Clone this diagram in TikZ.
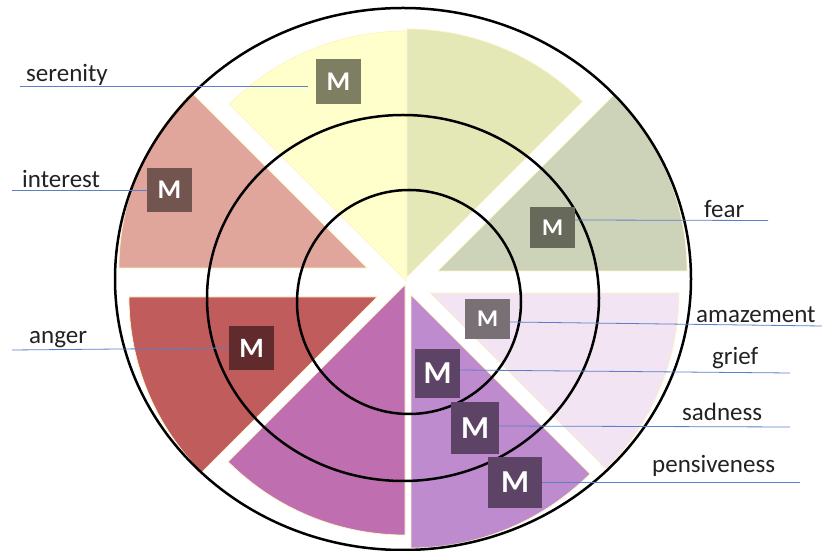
\documentclass[tikz,border=0pt]{standalone}
\usepackage{fontspec}
\setmainfont{Carlito}
\definecolor{cSerenity}{HTML}{FFFFCC}
\definecolor{cGreen}{HTML}{E4E8B6}
\definecolor{cFear}{HTML}{CDD3B9}
\definecolor{cAmaze}{HTML}{F2E4F2}
\definecolor{cSad}{HTML}{BF8BCF}
\definecolor{cMagenta}{HTML}{BF6FAF}
\definecolor{cAnger}{HTML}{C05C5B}
\definecolor{cInterest}{HTML}{E0A69B}
\definecolor{sectoredge}{HTML}{FFF3C2}
\definecolor{leaderblue}{HTML}{5B7FC8}
\definecolor{inkgray}{HTML}{222222}
\definecolor{mSerenity}{HTML}{7E7E62}
\definecolor{mInterest}{HTML}{735550}
\definecolor{mFear}{HTML}{67695A}
\definecolor{mAmaze}{HTML}{797075}
\definecolor{mAnger}{HTML}{612B2D}
\definecolor{mGrief}{HTML}{5D4466}
\begin{document}
\begin{tikzpicture}[x=1pt,y=1pt,
  sector/.style={draw=sectoredge, line width=0.7pt, fill=#1},
  ring/.style={draw=black, line width=2.5pt},
  mbox/.style={fill=#1, text=white, inner sep=0pt},
  leader/.style={draw=leaderblue, line width=0.8pt},
  tag/.style={text=inkgray, inner sep=0pt, anchor=base west,
              font=\fontsize{25}{29}\selectfont}]
\useasboundingbox (0,0) rectangle (822,551);

% eight wedges of the wheel, each with its own apex
\newcommand\wheelwedge[6]{%
  \filldraw[sector=#6] (#1,#2) -- ++(#4:#3)
    arc[start angle=#4, end angle=#5, radius=#3] -- cycle;}
\wheelwedge{406}{270}{250}{90}{135}{cSerenity}
\wheelwedge{407}{274}{248}{45}{90}{cGreen}
\wheelwedge{438}{280}{249}{0}{45}{cFear}
\wheelwedge{430}{258}{249}{-45}{0}{cAmaze}
\wheelwedge{411}{256}{253}{-90}{-45}{cSad}
\wheelwedge{405}{266}{250}{-135}{-90}{cMagenta}
\wheelwedge{377}{254}{248}{180}{225}{cAnger}
\wheelwedge{367}{283}{248}{135}{180}{cInterest}

% concentric rings
\draw[ring] (403,272) ellipse [x radius=288, y radius=271];
\draw[ring] (403,253) ellipse [x radius=196, y radius=183];
\draw[ring] (409,249) circle [radius=112];

% marker boxes
\node[mbox=mSerenity, minimum width=45pt, minimum height=45pt,
      font=\bfseries\fontsize{27}{27}\selectfont] (mS) at (338.5,469.5) {M};
\node[mbox=mInterest, minimum width=45pt, minimum height=44pt,
      font=\bfseries\fontsize{27}{27}\selectfont] (mI) at (169.5,361) {M};
\node[mbox=mFear, minimum width=45pt, minimum height=41pt,
      font=\bfseries\fontsize{24}{24}\selectfont] (mF) at (552.5,323.5) {M};
\node[mbox=mAmaze, minimum width=45pt, minimum height=40pt,
      font=\bfseries\fontsize{24}{24}\selectfont] (mA) at (487.5,232) {M};
\node[mbox=mAnger, minimum width=45pt, minimum height=44pt,
      font=\bfseries\fontsize{28}{28}\selectfont] (mN) at (251.5,203) {M};
\node[mbox=mGrief, minimum width=45pt, minimum height=49pt,
      font=\bfseries\fontsize{32}{32}\selectfont] (mG) at (437.5,177.5) {M};
\node[mbox=mGrief, minimum width=48pt, minimum height=52pt,
      font=\bfseries\fontsize{32}{32}\selectfont] (mD) at (475,123) {M};
\node[mbox=mGrief, minimum width=54pt, minimum height=51pt,
      font=\bfseries\fontsize{32}{32}\selectfont] (mP) at (515,68.5) {M};

% free ends of the leader lines
\coordinate (eS) at (20,465);
\coordinate (eI) at (12,361);
\coordinate (eN) at (12,201);
\coordinate (eF) at (768,330.5);
\coordinate (eA) at (822,225);
\coordinate (eG) at (790,178);
\coordinate (eD) at (790,124);
\coordinate (eP) at (800,69);

\draw[leader, shorten >=8pt] (eS) -- (mS.west |- eS);
\draw[leader] (eI) -- (mI.west |- eI);
\draw[leader] (eN) -- (mN.west |- 0,203);
\draw[leader] (mF.east |- 0,331) -- (eF);
\draw[leader] (mA.east |- 0,229) -- (eA);
\draw[leader] (mG.east |- 0,181) -- (eG);
\draw[leader] (mD.east |- 0,125) -- (eD);
\draw[leader] (mP.east |- eP) -- (eP);

% emotion names
\node[tag] (tS) at (26,469) {serenity};
\node[tag] (tI) at (22,363) {interest};
\node[tag] (tN) at (29,207) {anger};
\node[tag] (tF) at (704,333) {fear};
\node[tag] (tA) at (696,228) {amazement};
\node[tag] (tG) at (712,186) {grief};
\node[tag] (tD) at (682,130) {sadness};
\node[tag] (tP) at (652,78) {pensiveness};
\end{tikzpicture}
\end{document}
